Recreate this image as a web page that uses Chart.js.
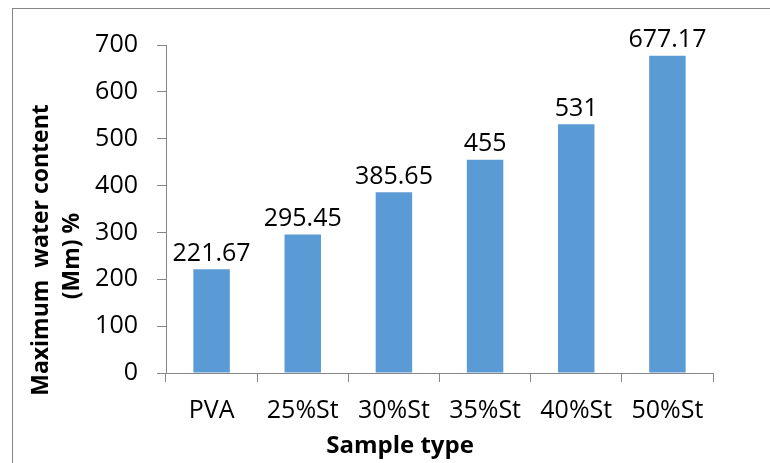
<!DOCTYPE html>
<html>
<head>
<meta charset="utf-8">
<script src="https://cdn.jsdelivr.net/npm/chart.js@4"></script>
<style>
  body { margin: 0; background: #fff; }
  #wrap { width: 770px; height: 463px; }
</style>
</head>
<body>
<div id="wrap"><canvas id="chart"></canvas></div>
<script>
const categories = ['PVA', '25%St', '30%St', '35%St', '40%St', '50%St'];
const waterContent = [221.67, 295.45, 385.65, 455, 531, 677.17];
const valueLabels = ['221.67', '295.45', '385.65', '455', '531', '677.17'];
const yTitleLines = ['Maximum  water content', '(Mm) %'];
const xTitle = 'Sample type';

const FONT = "'Open Sans', sans-serif";
const AXIS_GREY = '#868686';

// frame, value labels and axis titles
const extras = {
  id: 'extras',
  beforeDraw(chart) {
    const ctx = chart.ctx;
    ctx.save();
    ctx.strokeStyle = AXIS_GREY;
    ctx.lineWidth = 1;
    ctx.strokeRect(12.5, 8.5, 800, 500);
    ctx.restore();
  },
  afterDatasetsDraw(chart) {
    const ctx = chart.ctx;
    const meta = chart.getDatasetMeta(0);
    ctx.save();
    ctx.fillStyle = '#000';
    ctx.font = '25px ' + FONT;
    ctx.textAlign = 'center';
    ctx.textBaseline = 'bottom';
    meta.data.forEach((bar, i) => {
      ctx.fillText(valueLabels[i], bar.x, bar.y - 3);
    });

    ctx.textBaseline = 'middle';
    ctx.font = 'bold 24px ' + FONT;
    ctx.fillText(xTitle, 400, 446);

    ctx.font = 'bold 23px ' + FONT;
    ctx.save();
    ctx.translate(41, 250);
    ctx.rotate(-Math.PI / 2);
    ctx.fillText(yTitleLines[0], 0, 0);
    ctx.restore();
    ctx.translate(72, 256);
    ctx.rotate(-Math.PI / 2);
    ctx.fillText(yTitleLines[1], 0, 0);
    ctx.restore();
  }
};

new Chart(document.getElementById('chart'), {
  type: 'bar',
  data: {
    labels: categories,
    datasets: [{
      data: waterContent,
      backgroundColor: '#5B9BD5',
      categoryPercentage: 1,
      barPercentage: 0.4
    }]
  },
  options: {
    responsive: true,
    maintainAspectRatio: false,
    animation: false,
    layout: { padding: { top: 45, right: 57, left: 0, bottom: 0 } },
    plugins: { legend: { display: false }, tooltip: { enabled: false } },
    scales: {
      x: {
        afterFit: s => { s.height = 90; },
        grid: { drawOnChartArea: false, tickLength: 9, color: AXIS_GREY, offset: true },
        border: { color: AXIS_GREY },
        ticks: { color: '#000', font: { family: FONT, size: 25 }, padding: 14, maxRotation: 0 }
      },
      y: {
        min: 0,
        max: 700,
        afterFit: s => { s.width = 166; },
        grid: { drawOnChartArea: false, tickLength: 9, color: AXIS_GREY },
        border: { color: AXIS_GREY },
        ticks: { stepSize: 100, color: '#000', font: { family: FONT, size: 25 }, padding: 19 }
      }
    }
  },
  plugins: [extras]
});
</script>
</body>
</html>
